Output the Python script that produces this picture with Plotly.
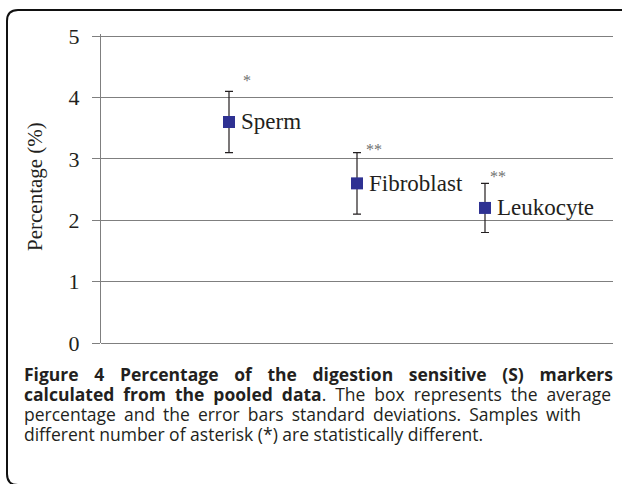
import plotly.graph_objects as go

# ---- data ----
cells = ["Sperm", "Fibroblast", "Leukocyte"]
xpos = [1, 2, 3]
means = [3.6, 2.6, 2.2]
sds = [0.5, 0.5, 0.4]
stars = ["*", "**", "**"]
yticks = [0, 1, 2, 3, 4, 5]

# ---- style (pixel offsets for the asterisk labels) ----
star_dx = [12, 7, 3]
star_dy = [11, 3, 7]

W, H = 622, 484
L, R, B = 101, 613, 343
UNIT = (B - 36) / 5.0          # pixels per y unit (5 sits at y=36)
YTOP = 5.033
T = round(B - YTOP * UNIT)


def px(x):
    return (x - L) / (R - L)


def py(y):
    return (B - y) / (B - T)


SERIF = "Liberation Serif"
SANS = "Open Sans"
INK = "#231f20"
GRID = "#7f7f7f"

fig = go.Figure()
fig.add_trace(go.Scatter(
    x=xpos, y=means, mode="markers",
    marker=dict(symbol="square", size=12, color="#2e3192"),
    error_y=dict(type="data", array=sds, visible=True, color=INK,
                 thickness=1.2, width=4),
    hoverinfo="skip", showlegend=False,
))

annotations = []
for x, m, s, lab, st, dx, dy in zip(xpos, means, sds, cells, stars, star_dx, star_dy):
    annotations.append(dict(x=x, y=m, xref="x", yref="y", text=lab,
                            showarrow=False, xanchor="left", yanchor="middle",
                            xshift=10, font=dict(family=SERIF, size=23, color=INK)))
    annotations.append(dict(x=x, y=m + s, xref="x", yref="y", text=st,
                            showarrow=False, xanchor="left", yanchor="middle",
                            xshift=dx, yshift=dy, font=dict(family=SERIF, size=16, color="#707070")))

# y-axis title
annotations.append(dict(x=px(35), y=py(187), xref="paper", yref="paper",
                        text="Percentage (%)", textangle=-90, showarrow=False,
                        xanchor="center", yanchor="middle",
                        font=dict(family=SERIF, size=21, color=INK)))

caption_lines = [
    "<b>Figure 4 Percentage of the digestion sensitive (S) markers</b>",
    "<b>calculated from the pooled data</b>. The box represents the average",
    "percentage and the error bars standard deviations. Samples with",
    "different number of asterisk (*) are statistically different.",
]
cap_index = len(annotations)
annotations.append(dict(x=px(22), y=py(360), xref="paper", yref="paper",
                        text="<br>".join(caption_lines), showarrow=False,
                        xanchor="left", yanchor="top", align="left",
                        font=dict(family=SANS, size=17.5, color=INK)))

# rounded frame
x0, y0, x1, y1, r = 7, 10, 660, 485, 11
path = (f"M {px(x0)},{py(y0 + r)} "
        f"Q {px(x0)},{py(y0)} {px(x0 + r)},{py(y0)} "
        f"L {px(x1)},{py(y0)} L {px(x1)},{py(y1)} "
        f"L {px(x0 + r)},{py(y1)} "
        f"Q {px(x0)},{py(y1)} {px(x0)},{py(y1 - r)} Z")

fig.update_layout(
    width=W, height=H,
    margin=dict(l=L, r=W - R, t=T, b=H - B),
    paper_bgcolor="white", plot_bgcolor="white",
    shapes=[dict(type="path", path=path, xref="paper", yref="paper",
                 line=dict(color="#111111", width=2), layer="above")],
    annotations=annotations,
    xaxis=dict(range=[0, 4], showgrid=False, showticklabels=False,
               zeroline=False, showline=False, ticks=""),
    yaxis=dict(range=[0, YTOP], tickvals=yticks, ticktext=[str(v) for v in yticks],
               showgrid=True, gridcolor=GRID, gridwidth=1,
               zeroline=True, zerolinecolor=GRID, zerolinewidth=1,
               showline=True, linecolor=GRID, linewidth=1,
               ticks="outside", ticklen=8, tickcolor=GRID,
               ticklabelstandoff=8,
               tickfont=dict(family=SERIF, size=22, color=INK)),
)

# remove the page margin, set the caption leading to 20px and justify its lines
post = """
document.body.style.margin = '0';
(function(){
  var el = document.querySelector('g.annotation[data-index="%d"] text.annotation-text');
  if (!el) return;
  var lines = el.querySelectorAll('tspan.line');
  var widths = [589, 587, 557, null];
  for (var i = 0; i < lines.length; i++) {
    var ln = lines[i];
    if (i > 0) ln.setAttribute('dy', String(20 * i));
    var w = widths[i];
    if (!w) continue;
    var gaps = (ln.textContent.match(/ /g) || []).length;
    var len = ln.getComputedTextLength();
    if (gaps && w > len) ln.style.wordSpacing = ((w - len) / gaps) + 'px';
  }
})();
""" % cap_index

fig.write_html("out.html", post_script=post, config={"displayModeBar": False})
